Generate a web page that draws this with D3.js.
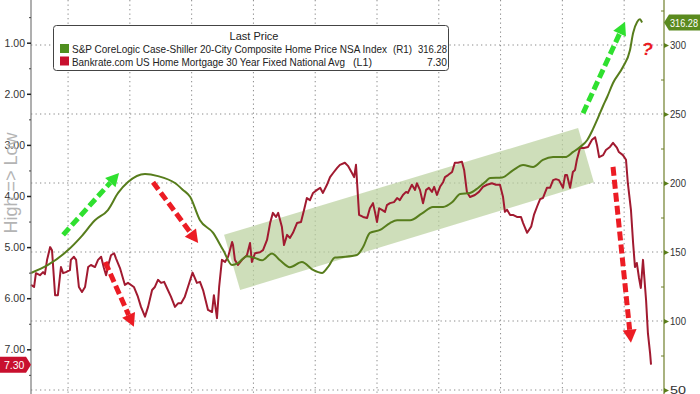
<!DOCTYPE html>
<html>
<head>
<meta charset="utf-8">
<script src="https://cdn.jsdelivr.net/npm/d3@7"></script>
<style>
  body { margin: 0; background: #fff; }
  svg { display: block; font-family: "Liberation Sans", Arial, sans-serif; }
</style>
</head>
<body>
<svg></svg>
<script>
// Case-Shiller 20-City NSA index (right axis) - dates as decimal years
const hpiYears = [2002.80, 2003.35, 2004.00, 2004.42, 2004.87, 2005.29, 2005.62, 2005.94, 2006.49, 2006.91,
  2007.46, 2007.72, 2007.95, 2008.27, 2008.69, 2009.02, 2009.31, 2009.50, 2009.79, 2010.05,
  2010.28, 2010.60, 2010.86, 2011.18, 2011.57, 2011.93, 2012.22, 2012.41, 2012.64, 2012.90,
  2013.35, 2013.55, 2013.77, 2014.10, 2014.42, 2014.65, 2015.07, 2015.46, 2015.81, 2016.14,
  2016.43, 2016.69, 2017.01, 2017.27, 2017.50, 2017.66, 2018.05, 2018.41, 2018.73, 2019.05,
  2019.37, 2019.70, 2020.09, 2020.35, 2020.57, 2020.80, 2020.99, 2021.15, 2021.32, 2021.45,
  2021.64, 2021.96, 2022.19, 2022.29, 2022.42, 2022.51, 2022.58];
const hpiValues = [134.8, 140.6, 151.4, 161.0, 173.0, 180.4, 192.8, 200.7, 206.5, 205.0,
  200.0, 195.0, 190.0, 173.0, 164.0, 151.4, 140.6, 142.0, 147.0, 145.6,
  144.0, 149.0, 144.0, 139.0, 142.8, 137.0, 134.8, 139.0, 146.0, 146.4,
  147.8, 153.6, 163.8, 166.0, 171.0, 173.0, 173.0, 178.0, 182.6, 182.6,
  186.0, 192.0, 192.8, 196.4, 200.7, 203.6, 204.0, 209.4, 213.0, 211.6,
  216.7, 218.8, 218.8, 222.5, 226.0, 231.0, 239.0, 247.0, 256.0, 262.3,
  272.5, 284.1, 296.4, 308.7, 316.7, 318.6, 316.28];

// Bankrate 30Y fixed mortgage rate (left axis, inverted)
const rateYears = [2002.80, 2002.90, 2002.96, 2003.09, 2003.19, 2003.25, 2003.32, 2003.42, 2003.48, 2003.58,
  2003.67, 2003.77, 2003.84, 2003.93, 2004.06, 2004.09, 2004.19, 2004.26, 2004.35, 2004.45,
  2004.55, 2004.65, 2004.74, 2004.87, 2004.97, 2005.07, 2005.16, 2005.23, 2005.32, 2005.39,
  2005.49, 2005.55, 2005.68, 2005.84, 2005.94, 2006.13, 2006.26, 2006.36, 2006.49, 2006.59,
  2006.72, 2006.81, 2006.91, 2007.01, 2007.11, 2007.20, 2007.33, 2007.46, 2007.56, 2007.66,
  2007.78, 2007.88, 2008.03, 2008.17, 2008.27, 2008.37, 2008.53, 2008.66, 2008.72, 2008.82,
  2008.89, 2008.98, 2009.08, 2009.18, 2009.31, 2009.34, 2009.40, 2009.50, 2009.63, 2009.79,
  2009.89, 2009.95, 2010.05, 2010.21, 2010.31, 2010.44, 2010.54, 2010.63, 2010.73, 2010.80,
  2010.92, 2010.99, 2011.09, 2011.18, 2011.28, 2011.41, 2011.54, 2011.64, 2011.73, 2011.83,
  2011.93, 2012.06, 2012.16, 2012.25, 2012.38, 2012.48, 2012.58, 2012.71, 2012.80, 2012.96,
  2013.06, 2013.19, 2013.26, 2013.32, 2013.42, 2013.55, 2013.68, 2013.77, 2013.87, 2013.94,
  2014.00, 2014.07, 2014.16, 2014.26, 2014.32, 2014.42, 2014.55, 2014.65, 2014.74, 2014.84,
  2014.94, 2015.00, 2015.13, 2015.23, 2015.29, 2015.39, 2015.49, 2015.59, 2015.68, 2015.78,
  2015.85, 2015.94, 2016.04, 2016.14, 2016.20, 2016.30, 2016.43, 2016.52, 2016.62, 2016.75,
  2016.82, 2016.91, 2017.01, 2017.17, 2017.30, 2017.43, 2017.56, 2017.72, 2017.85, 2017.98,
  2018.08, 2018.14, 2018.21, 2018.31, 2018.40, 2018.53, 2018.66, 2018.73, 2018.86, 2018.99,
  2019.08, 2019.18, 2019.28, 2019.37, 2019.50, 2019.60, 2019.70, 2019.79, 2019.89, 2020.02,
  2020.09, 2020.15, 2020.25, 2020.34, 2020.41, 2020.47, 2020.57, 2020.70, 2020.83, 2020.96,
  2021.06, 2021.12, 2021.19, 2021.32, 2021.41, 2021.54, 2021.64, 2021.77, 2021.83, 2021.96,
  2022.06, 2022.12, 2022.22, 2022.29, 2022.35, 2022.41, 2022.48, 2022.54, 2022.61, 2022.71,
  2022.77, 2022.84, 2022.87];
const rateValues = [5.74, 5.78, 5.51, 5.55, 5.49, 5.53, 5.25, 5.00, 5.06, 5.94,
  5.94, 5.39, 5.51, 5.49, 5.45, 5.25, 5.19, 5.25, 5.78, 5.88,
  5.78, 5.39, 5.35, 5.39, 5.25, 5.19, 5.41, 5.55, 5.31, 5.16,
  5.12, 5.22, 5.41, 5.74, 5.70, 5.78, 5.97, 6.17, 6.36, 6.17,
  5.84, 5.78, 5.64, 5.70, 5.68, 5.80, 5.97, 6.17, 6.10, 6.10,
  5.97, 5.78, 5.50, 5.70, 5.68, 5.84, 6.23, 6.27, 5.94, 6.39,
  5.78, 5.25, 5.29, 5.19, 4.90, 4.96, 5.25, 5.35, 5.25, 5.16,
  4.92, 5.29, 5.12, 5.10, 5.06, 4.86, 4.53, 4.33, 4.41, 4.33,
  4.60, 4.96, 4.76, 4.82, 4.72, 4.53, 4.51, 4.27, 4.04, 4.08,
  3.94, 3.88, 3.84, 3.94, 3.78, 3.63, 3.55, 3.45, 3.39, 3.35,
  3.41, 3.55, 3.63, 3.39, 4.37, 4.41, 4.43, 4.24, 4.14, 4.33,
  4.51, 4.24, 4.27, 4.31, 4.18, 4.14, 4.12, 4.04, 4.08, 3.98,
  3.92, 3.94, 3.78, 3.88, 3.75, 3.88, 4.14, 3.88, 3.84, 3.92,
  3.82, 3.98, 3.82, 3.73, 3.63, 3.59, 3.53, 3.35, 3.35, 3.33,
  3.49, 3.92, 4.02, 3.98, 3.92, 3.82, 3.78, 3.75, 3.78, 3.78,
  4.02, 4.31, 4.27, 4.37, 4.37, 4.41, 4.41, 4.53, 4.72, 4.60,
  4.37, 4.21, 4.06, 4.04, 3.84, 3.84, 3.69, 3.67, 3.69, 3.84,
  3.59, 3.59, 3.84, 3.53, 3.49, 3.29, 3.06, 3.06, 3.04, 2.90,
  2.85, 3.00, 3.24, 3.20, 3.10, 3.04, 2.96, 3.06, 3.14, 3.20,
  3.29, 3.75, 4.27, 4.92, 5.39, 5.31, 5.60, 5.80, 5.25, 6.04,
  6.69, 7.08, 7.30];

const leftTicks = [1, 2, 3, 4, 5, 6, 7];
const rightTicks = [50, 100, 150, 200, 250, 300];
const gridYears = [2004, 2006, 2008, 2010, 2012, 2014, 2016, 2018, 2020, 2022];

const hpiName = "S&P CoreLogic Case-Shiller 20-City Composite Home Price NSA Index";
const rateName = "Bankrate.com US Home Mortgage 30 Year Fixed National Avg";
const hpiLast = 316.28;
const rateLast = 7.30;

const width = 700;
const height = 394;
const left = 31;
const right = 664;

const svg = d3.select("svg").attr("width", width).attr("height", height);

const x = d3.scaleLinear().domain([2002.8, 2023.29]).range([left, right]);
const yL = d3.scaleLinear().domain([1, 7]).range([42.7, 349.3]);
const yR = d3.scaleLinear().domain([50, 300]).range([390, 45]);

// dotted grid
svg.append("g").selectAll("line").data(rightTicks).enter().append("line")
  .attr("x1", left).attr("x2", right)
  .attr("y1", d => yR(d)).attr("y2", d => yR(d))
  .attr("stroke", "#8a8a8a").attr("stroke-dasharray", "1.3,3.2");
svg.append("g").selectAll("line").data(gridYears).enter().append("line")
  .attr("x1", d => x(d)).attr("x2", d => x(d))
  .attr("y1", 0).attr("y2", height)
  .attr("stroke", "#8a8a8a").attr("stroke-dasharray", "1.3,3.2");

// shaded channel (year, rate corners)
const band = [[2009.05, 4.76], [2020.51, 2.67], [2021.02, 3.73], [2009.57, 5.84]];
svg.append("polygon")
  .attr("points", band.map(d => [x(d[0]), yL(d[1])].join(",")).join(" "))
  .attr("fill", "#b9d09c").attr("opacity", 0.7);

// lines
const hpi = hpiYears.map((d, i) => [d, hpiValues[i]]);
const rate = rateYears.map((d, i) => [d, rateValues[i]]);

svg.append("path").datum(rate)
  .attr("fill", "none").attr("stroke", "#a11a30").attr("stroke-width", 2)
  .attr("stroke-linejoin", "round")
  .attr("d", d3.line().x(d => x(d[0])).y(d => yL(d[1])));

svg.append("path").datum(hpi)
  .attr("fill", "none").attr("stroke", "#577d1c").attr("stroke-width", 2)
  .attr("d", d3.line().curve(d3.curveMonotoneX).x(d => x(d[0])).y(d => yR(d[1])));

// annotation arrows (from [year, rate] to [year, rate])
const arrows = [
  { from: [2003.84, 4.76], to: [2005.65, 3.55], color: "#2fe02f" },
  { from: [2006.75, 3.73], to: [2008.21, 4.92], color: "#ec1c24" },
  { from: [2005.20, 5.29], to: [2006.13, 6.56], color: "#ec1c24" },
  { from: [2020.67, 2.38], to: [2022.03, 0.59], color: "#2fe02f" },
  { from: [2021.64, 3.43], to: [2022.22, 6.87], color: "#ec1c24" }
];
arrows.forEach(a => {
  const x1 = x(a.from[0]), y1 = yL(a.from[1]);
  const x2 = x(a.to[0]), y2 = yL(a.to[1]);
  const ang = Math.atan2(y2 - y1, x2 - x1);
  const head = 13;
  const bx = x2 - head * Math.cos(ang), by = y2 - head * Math.sin(ang);
  svg.append("line")
    .attr("x1", x1).attr("y1", y1).attr("x2", bx).attr("y2", by)
    .attr("stroke", a.color).attr("stroke-width", 5)
    .attr("stroke-dasharray", "9,4");
  const px = -Math.sin(ang) * 7, py = Math.cos(ang) * 7;
  svg.append("path")
    .attr("d", `M${x2},${y2}L${bx + px},${by + py}L${bx - px},${by - py}Z`)
    .attr("fill", a.color);
});

svg.append("text")
  .attr("x", x(2022.78)).attr("y", yL(1.25))
  .attr("text-anchor", "middle")
  .attr("fill", "#ec1c24").attr("font-size", 18).attr("font-weight", "bold")
  .attr("transform", `rotate(12,${x(2022.78)},${yL(1.05)})`)
  .text("?");

// left axis
svg.append("line").attr("x1", left).attr("x2", left).attr("y1", 0).attr("y2", height)
  .attr("stroke", "#7a7a7a").attr("stroke-width", 1.2);
const gl = svg.append("g").attr("transform", `translate(${left},0)`)
  .call(d3.axisLeft(yL).tickValues(leftTicks).tickFormat(d3.format(".2f")).tickSize(4).tickPadding(2));
gl.select(".domain").remove();
gl.selectAll("text").attr("font-size", 10.5).attr("fill", "#333").attr("font-family", "Liberation Sans");
gl.selectAll("line").attr("stroke", "#222").attr("stroke-width", 1.5);
const glm = svg.append("g").attr("transform", `translate(${left},0)`)
  .call(d3.axisLeft(yL).tickValues([0.5, 1.5, 2.5, 3.5, 4.5, 5.5, 6.5, 7.5]).tickFormat("").tickSize(2));
glm.select(".domain").remove();
glm.selectAll("line").attr("stroke", "#444");

svg.append("text")
  .attr("transform", `translate(17,183) rotate(-90)`)
  .attr("text-anchor", "middle")
  .attr("font-size", 18).attr("fill", "#b4b4b4")
  .text("High => Low");

// right axis
svg.append("line").attr("x1", right).attr("x2", right).attr("y1", 0).attr("y2", height)
  .attr("stroke", "#6f7f2a").attr("stroke-width", 1.2);
const gr = svg.append("g").attr("transform", `translate(${right},0)`)
  .call(d3.axisRight(yR).tickValues(rightTicks).tickSize(0).tickPadding(6));
gr.select(".domain").remove();
gr.selectAll("text").attr("font-size", 10.5).attr("fill", "#333").attr("font-family", "Liberation Sans")
  .attr("textLength", 16).attr("lengthAdjust", "spacingAndGlyphs");
gr.selectAll(".tick").append("path").attr("d", "M0,-2.5L5,0L0,2.5Z").attr("fill", "#5a7d1a");
const grm = svg.append("g").attr("transform", `translate(${right},0)`)
  .call(d3.axisLeft(yR).tickValues([75, 125, 175, 225, 275, 325]).tickFormat("").tickSize(3));
grm.select(".domain").remove();
grm.selectAll("line").attr("stroke", "#6f7f2a");

// last value flags
const gy = yR(hpiLast);
svg.append("path")
  .attr("d", `M${right},${gy}L${right + 5},${gy - 8}L${width},${gy - 8}L${width},${gy + 8}L${right + 5},${gy + 8}Z`)
  .attr("fill", "#5a8a1e");
svg.append("text").attr("x", right + 6).attr("y", gy + 4)
  .attr("font-size", 10.5).attr("fill", "#fff")
  .attr("textLength", 28).attr("lengthAdjust", "spacingAndGlyphs")
  .text(d3.format(".2f")(hpiLast));

const ry = yL(rateLast);
svg.append("path")
  .attr("d", `M0,${ry - 8}L${left - 5},${ry - 8}L${left},${ry}L${left - 5},${ry + 8}L0,${ry + 8}Z`)
  .attr("fill", "#c8102e");
svg.append("text").attr("x", 4).attr("y", ry + 4)
  .attr("font-size", 10.5).attr("fill", "#fff").text(d3.format(".2f")(rateLast));

// legend
const lg = svg.append("g");
lg.append("rect").attr("x", 53.5).attr("y", 25.5).attr("width", 395).attr("height", 45)
  .attr("rx", 3).attr("fill", "#fff").attr("stroke", "#444");
lg.append("text").attr("x", 254).attr("y", 40).attr("text-anchor", "middle")
  .attr("font-size", 11).attr("fill", "#222").text("Last Price");
const rows = [
  { name: hpiName, tag: "(R1)", tagX: 393, val: hpiLast, color: "#4f8f1f", len: 315, valLen: 29 },
  { name: rateName, tag: "(L1)", tagX: 353, val: rateLast, color: "#c8102e", len: 273, valLen: 20 }
];
rows.forEach((r, i) => {
  const yy = 53 + i * 12.5;
  lg.append("rect").attr("x", 60).attr("y", yy - 9).attr("width", 9).attr("height", 9).attr("fill", r.color);
  lg.append("text").attr("x", 72).attr("y", yy).attr("font-size", 11).attr("fill", "#222")
    .attr("textLength", r.len).attr("lengthAdjust", "spacingAndGlyphs").text(r.name);
  lg.append("text").attr("x", r.tagX).attr("y", yy).attr("font-size", 11).attr("fill", "#222")
    .attr("textLength", 19).attr("lengthAdjust", "spacingAndGlyphs").text(r.tag);
  lg.append("text").attr("x", 447 - r.valLen).attr("y", yy)
    .attr("font-size", 11).attr("fill", "#222")
    .attr("textLength", r.valLen).attr("lengthAdjust", "spacingAndGlyphs")
    .text(d3.format(".2f")(r.val));
});
</script>
</body>
</html>
